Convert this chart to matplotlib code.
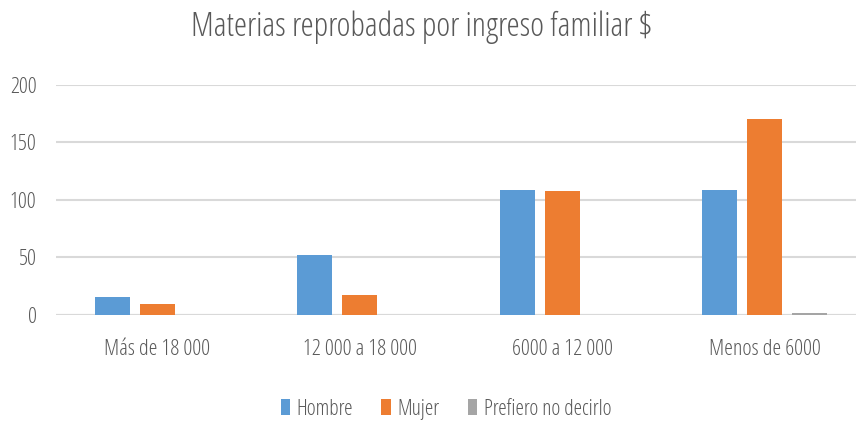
import matplotlib.pyplot as plt
import numpy as np

categories = ["Más de 18 000", "12 000 a 18 000", "6000 a 12 000", "Menos de 6000"]
hombre = [16, 52, 109, 109]
mujer = [10, 17, 108, 170]
prefiero = [0, 0, 0, 2]
series_names = ["Hombre", "Mujer", "Prefiero no decirlo"]
colors = ["#5b9bd5", "#ed7d31", "#a5a5a5"]

plt.rcParams['font.family'] = ['Open Sans', 'DejaVu Sans']
plt.rcParams['font.stretch'] = 'condensed'

fig = plt.figure(figsize=(8.56, 4.24), dpi=100)
# plot area runs past the right edge like in the cropped original
ax = fig.add_axes([0.0654, 0.257, 0.946, 0.543])

x = np.arange(len(categories))
width = 0.173
step = 0.222
for i, (vals, name, col) in enumerate(zip([hombre, mujer, prefiero], series_names, colors)):
    ax.bar(x + (i - 1) * step, vals, width, color=col, label=name, zorder=3)

ax.set_ylim(0, 200)
ax.set_xlim(-0.5, len(categories) - 0.5)
ax.set_yticks([0, 50, 100, 150, 200])
ax.grid(axis='y', color='#d9d9d9', linewidth=1.5, zorder=0)
for s in ax.spines.values():
    s.set_visible(False)
ax.axhline(0, color='#d9d9d9', linewidth=1.5, zorder=1)
ax.tick_params(axis='both', length=0, labelsize=16, colors='#595959')
ax.tick_params(axis='y', pad=14)
ax.tick_params(axis='x', pad=17)
ax.set_xticks(x)
ax.set_xticklabels(categories)

fig.text(0.492, 0.936, "Materias reprobadas por ingreso familiar $", ha='center', va='center',
         fontsize=24, color='#595959')

handles, labels = ax.get_legend_handles_labels()
fig.legend(handles, labels, loc='center', bbox_to_anchor=(0.521, 0.035), ncol=3, frameon=False,
           fontsize=15.5, handlelength=0.45, handleheight=0.8, handletextpad=0.3, columnspacing=1.3,
           labelcolor='#595959')

fig.savefig("out.png", dpi=100)
